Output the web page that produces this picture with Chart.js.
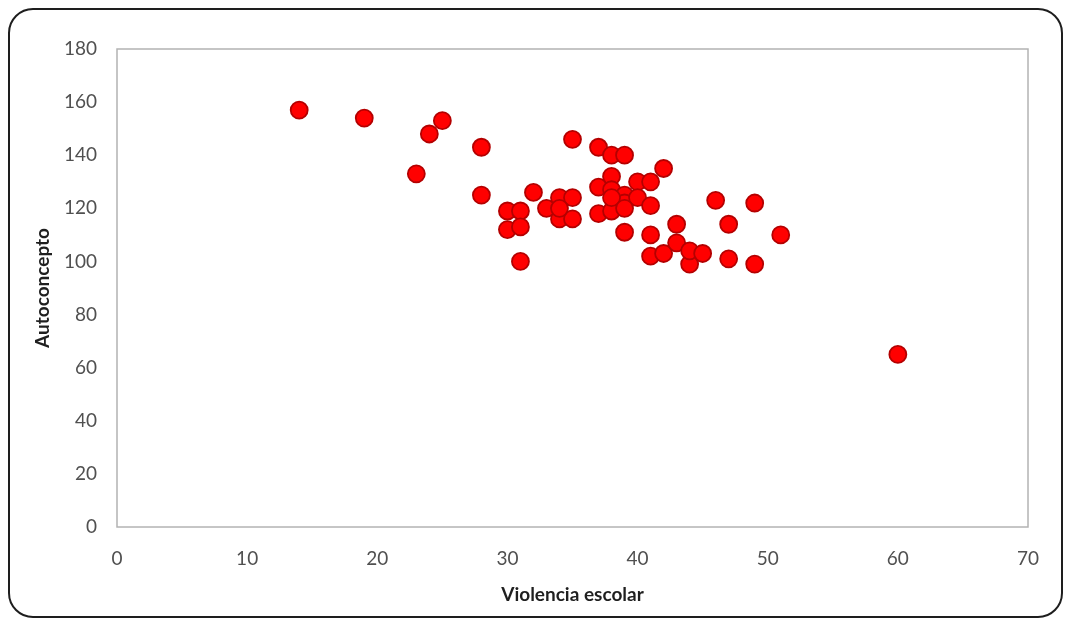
<!DOCTYPE html>
<html>
<head>
<meta charset="utf-8">
<style>
  html, body { margin: 0; padding: 0; background: #fff; }
  #wrap { position: relative; width: 1065px; height: 619px; }
</style>
<script src="https://cdn.jsdelivr.net/npm/chart.js@4.4.1/dist/chart.umd.min.js"></script>
</head>
<body>
<div id="wrap"><canvas id="chart" width="1065" height="619"></canvas></div>
<script>
// Violencia escolar (x) vs Autoconcepto (y)
const violencia = [14, 19, 23, 24, 25, 28, 28, 30, 31, 30, 31, 31, 32, 33, 34, 35, 34, 35, 34,
  35, 37, 38, 39, 37, 38, 37, 38, 38, 39, 39, 38, 40, 41, 40, 41, 39, 42, 39, 41, 43,
  46, 49, 47, 51, 41, 42, 43, 44, 44, 45, 47, 49, 60]
const autoconcepto = [157, 154, 133, 148, 153, 143, 125, 119, 119, 112, 113, 100, 126, 120, 124, 124, 116, 116, 120,
  146, 143, 140, 140, 128, 132, 118, 119, 127, 125, 122, 124, 130, 130, 124, 121, 120, 135, 111, 110, 114,
  123, 122, 114, 110, 102, 103, 107, 99, 104, 103, 101, 99, 65]
const xTicks = [0, 10, 20, 30, 40, 50, 60, 70]
const yTicks = [0, 20, 40, 60, 80, 100, 120, 140, 160, 180]

const points = violencia.map((v, i) => ({ x: v, y: autoconcepto[i] }))

const frame = {
  id: 'frame',
  beforeDraw(chart) {
    const ctx = chart.ctx
    ctx.save()
    ctx.strokeStyle = '#1e1e1e'
    ctx.lineWidth = 2
    ctx.beginPath()
    ctx.roundRect(9, 9, 1053, 608, 24)
    ctx.stroke()
    ctx.restore()
  },
  beforeDatasetsDraw(chart) {
    const { ctx, chartArea: a } = chart
    ctx.save()
    ctx.strokeStyle = '#b3b3b3'
    ctx.lineWidth = 1.5
    ctx.strokeRect(a.left, a.top, a.right - a.left, a.bottom - a.top)
    ctx.restore()
  }
}

const tickFont = { family: 'Lato', size: 19 }
const titleFont = { family: 'Lato', size: 19, weight: 'bold' }

new Chart(document.getElementById('chart'), {
  type: 'scatter',
  data: {
    datasets: [{
      data: points,
      pointRadius: 8.5,
      pointHoverRadius: 8.5,
      pointBackgroundColor: '#ff0000',
      pointBorderColor: '#b40000',
      pointBorderWidth: 1.8,
      clip: false
    }]
  },
  options: {
    responsive: false,
    animation: false,
    layout: { padding: { top: 49, right: 37, bottom: 0, left: 0 } },
    plugins: { legend: { display: false }, tooltip: { enabled: false } },
    scales: {
      x: {
        type: 'linear',
        min: 0, max: 70,
        afterBuildTicks: s => { s.ticks = xTicks.map(v => ({ value: v })) },
        afterFit: s => { s.height = 92 },
        grid: { display: false, drawTicks: false },
        border: { display: false },
        ticks: { color: '#505050', font: tickFont, padding: 20, maxRotation: 0 },
        title: { display: true, text: 'Violencia escolar', color: '#1f1f1f', font: titleFont, padding: { top: 0, bottom: 13 } }
      },
      y: {
        type: 'linear',
        min: 0, max: 180,
        afterBuildTicks: s => { s.ticks = yTicks.map(v => ({ value: v })) },
        afterFit: s => { s.width = 117 },
        grid: { display: false, drawTicks: false },
        border: { display: false },
        ticks: { color: '#505050', font: tickFont, padding: 20 },
        title: { display: true, text: 'Autoconcepto', color: '#1f1f1f', font: titleFont, padding: { top: 31, bottom: 0 } }
      }
    }
  },
  plugins: [frame]
})
</script>
</body>
</html>
